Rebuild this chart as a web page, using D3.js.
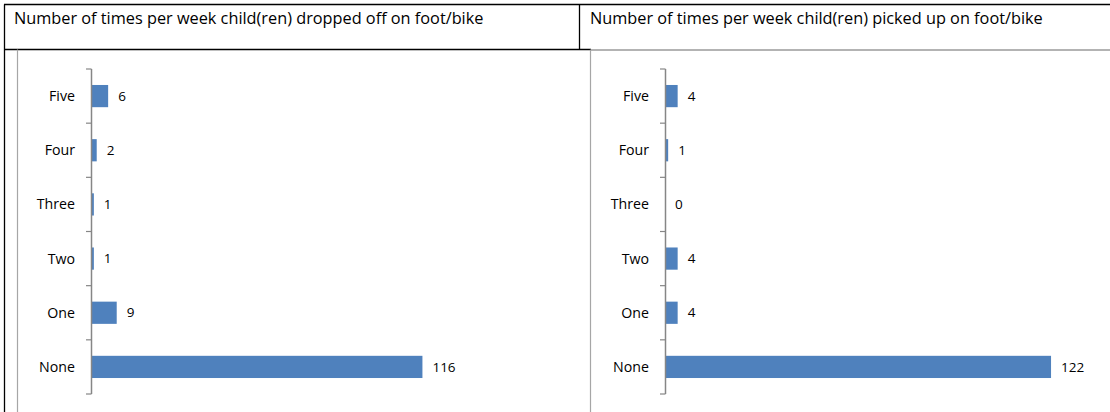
<!DOCTYPE html>
<html>
<head>
<meta charset="utf-8">
<script src="https://cdn.jsdelivr.net/npm/d3@7"></script>
<style>
  body { margin: 0; background: #fff; }
  svg { display: block; font-family: "Open Sans", Lato, sans-serif; }
</style>
</head>
<body>
<div id="chart"></div>
<script>
// Categories (top to bottom)
const categories = ["Five", "Four", "Three", "Two", "One", "None"];
// Counts per category
const droppedOff = [6, 2, 1, 1, 9, 116];
const pickedUp = [4, 1, 0, 4, 4, 122];
// Panel titles
const titles = [
  "Number of times per week child(ren) dropped off on foot/bike",
  "Number of times per week child(ren) picked up on foot/bike"
];

const width = 1110, height = 412;
const barColor = "#4F81BD";

const svg = d3.select("#chart")
  .append("svg")
  .attr("width", width)
  .attr("height", height);

// Table frame
const headerTop = 4.5, headerBottom = 49.5, divider = 579.5;
svg.append("line")
  .attr("x1", 4).attr("x2", width).attr("y1", headerTop).attr("y2", headerTop)
  .attr("stroke", "#000").attr("stroke-width", 1.3);
svg.append("line")
  .attr("x1", 4).attr("x2", 591).attr("y1", headerBottom).attr("y2", headerBottom)
  .attr("stroke", "#000").attr("stroke-width", 1.3);
svg.append("line")
  .attr("x1", 591).attr("x2", width).attr("y1", headerBottom + 0.5).attr("y2", headerBottom + 0.5)
  .attr("stroke", "#9a9a9a").attr("stroke-width", 1.3);
svg.append("line")
  .attr("x1", 4.5).attr("x2", 4.5).attr("y1", headerTop).attr("y2", height)
  .attr("stroke", "#000").attr("stroke-width", 1.3);
svg.append("line")
  .attr("x1", divider).attr("x2", divider).attr("y1", headerTop).attr("y2", headerBottom)
  .attr("stroke", "#000").attr("stroke-width", 1.3);

// Chart borders (grey)
[17.5, 590.5].forEach(x => {
  svg.append("line")
    .attr("x1", x).attr("x2", x).attr("y1", headerBottom).attr("y2", height)
    .attr("stroke", "#a6a6a6").attr("stroke-width", 1.2);
});

// Titles
svg.selectAll(".title")
  .data(titles)
  .enter()
  .append("text")
  .attr("class", "title")
  .attr("x", (d, i) => i === 0 ? 14 : 590)
  .attr("y", 24)
  .attr("font-size", "16.3px")
  .attr("fill", "#000")
  .text(d => d);

function drawPanel({ values, axisX, plotWidth }) {
  const g = svg.append("g");

  const yScale = d3.scaleBand()
    .domain(categories)
    .range([69, 394])
    .paddingInner(0.59)
    .paddingOuter(0.295);

  const xScale = d3.scaleLinear()
    .domain([0, 140])
    .range([axisX, axisX + plotWidth]);

  const step = yScale.step();
  const y0 = yScale.range()[0];

  // Bars
  g.selectAll(".bar")
    .data(values)
    .enter()
    .append("rect")
    .attr("class", "bar")
    .attr("x", xScale(0))
    .attr("y", (d, i) => yScale(categories[i]))
    .attr("width", d => xScale(d) - xScale(0))
    .attr("height", yScale.bandwidth())
    .attr("fill", barColor);

  // Axis line and ticks between categories
  g.append("line")
    .attr("x1", axisX + 0.5).attr("x2", axisX + 0.5)
    .attr("y1", y0).attr("y2", y0 + step * categories.length)
    .attr("stroke", "#868686").attr("stroke-width", 1.5);

  g.selectAll(".tick")
    .data(d3.range(categories.length + 1))
    .enter()
    .append("line")
    .attr("class", "tick")
    .attr("x1", axisX - 5).attr("x2", axisX + 0.5)
    .attr("y1", i => y0 + i * step).attr("y2", i => y0 + i * step)
    .attr("stroke", "#868686").attr("stroke-width", 1.2);

  // Category labels
  g.selectAll(".cat")
    .data(categories)
    .enter()
    .append("text")
    .attr("class", "cat")
    .attr("x", axisX - 16)
    .attr("y", d => yScale(d) + yScale.bandwidth() / 2)
    .attr("dy", "0.35em")
    .attr("text-anchor", "end")
    .attr("font-size", "14.2px")
    .attr("fill", "#000")
    .text(d => d);

  // Value labels
  g.selectAll(".val")
    .data(values)
    .enter()
    .append("text")
    .attr("class", "val")
    .attr("x", d => xScale(d) + 10)
    .attr("y", (d, i) => yScale(categories[i]) + yScale.bandwidth() / 2)
    .attr("dy", "0.35em")
    .attr("font-size", "13.5px")
    .attr("fill", "#000")
    .text(d => d);
}

drawPanel({ values: droppedOff, axisX: 91, plotWidth: 400 });
drawPanel({ values: pickedUp, axisX: 665, plotWidth: 443 });
</script>
</body>
</html>
